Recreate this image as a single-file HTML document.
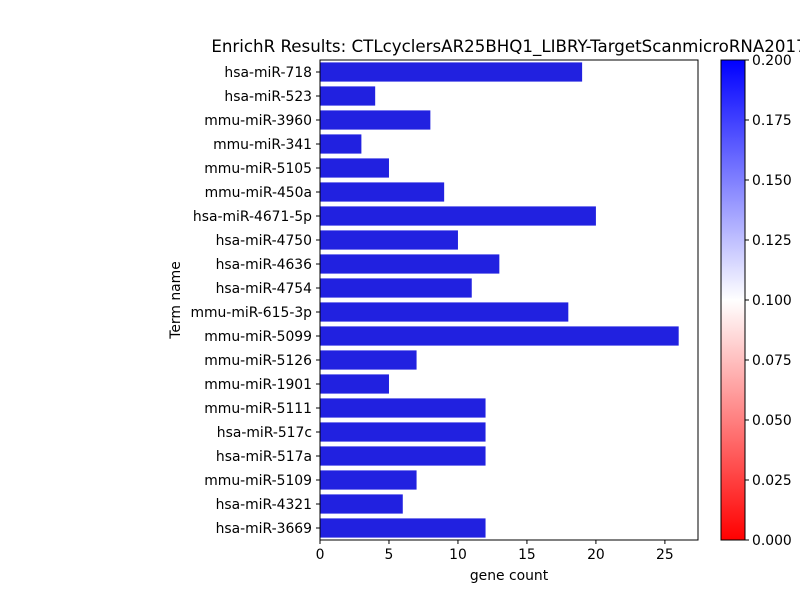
<!DOCTYPE html>
<html><head><meta charset="utf-8"><style>
body{margin:0;background:#fff;overflow:hidden;}
svg text{font-family:"DejaVu Sans","Liberation Sans",sans-serif;fill:#000;}
</style></head><body>
<svg id="chart" width="800" height="600" xmlns="http://www.w3.org/2000/svg">
<defs><linearGradient id="cg" x1="0" y1="1" x2="0" y2="0">
<stop offset="0" stop-color="#ff0000"/><stop offset="0.5" stop-color="#ffffff"/><stop offset="1" stop-color="#0000ff"/></linearGradient></defs>
<text x="509" y="52" font-size="16.67" text-anchor="middle">EnrichR Results: CTLcyclersAR25BHQ1_LIBRY-TargetScanmicroRNA2017</text>
<g id="bars"></g>
<rect x="320" y="60" width="378" height="480" fill="none" stroke="#000" stroke-width="1"/>
<g id="xaxis"></g>
<text x="509" y="580" font-size="13.9" text-anchor="middle">gene count</text>
<text transform="translate(180,300) rotate(-90)" font-size="13.9" text-anchor="middle">Term name</text>
<rect x="721" y="60" width="24" height="480" fill="url(#cg)" stroke="#000" stroke-width="1"/>
<g id="cbaxis"></g>
</svg>
<script>
const terms=["hsa-miR-718","hsa-miR-523","mmu-miR-3960","mmu-miR-341","mmu-miR-5105","mmu-miR-450a","hsa-miR-4671-5p","hsa-miR-4750","hsa-miR-4636","hsa-miR-4754","mmu-miR-615-3p","mmu-miR-5099","mmu-miR-5126","mmu-miR-1901","mmu-miR-5111","hsa-miR-517c","hsa-miR-517a","mmu-miR-5109","hsa-miR-4321","hsa-miR-3669"];
const counts=[19,4,8,3,5,9,20,10,13,11,18,26,7,5,12,12,12,7,6,12];
const xTicks=[0,5,10,15,20,25];
const cbTicks=["0.000","0.025","0.050","0.075","0.100","0.125","0.150","0.175","0.200"];
const NS="http://www.w3.org/2000/svg";
const x0=320,xMax=27.4,pw=378,plotTop=60,ph=480;
const xs=v=>x0+v/xMax*pw;
const band=ph/terms.length;
function mk(t,a,p){const e=document.createElementNS(NS,t);for(const k in a)e.setAttribute(k,a[k]);p.appendChild(e);return e;}
const gb=document.getElementById('bars'),gx=document.getElementById('xaxis'),gc=document.getElementById('cbaxis');
terms.forEach((t,i)=>{
 const y=plotTop+i*band;
 const r=mk('rect',{x:x0,y:y+band*0.1,width:xs(counts[i])-x0,height:band*0.8,fill:'#2121e0'},gb);
 
 
 mk('line',{x1:x0-4,x2:x0,y1:y+band/2,y2:y+band/2,stroke:'#000'},gb);
 const l=mk('text',{x:x0-8,y:y+band/2+5,'font-size':13.9,'text-anchor':'end'},gb);
 l.textContent=t;
 
 
});
xTicks.forEach(v=>{
 const x=xs(v);
 mk('line',{x1:x,x2:x,y1:540,y2:544,stroke:'#000'},gx);
 const l=mk('text',{x:x,y:559,'font-size':13.9,'text-anchor':'middle'},gx);
 l.textContent=v;
 
 
});
cbTicks.forEach((v,i)=>{
 const y=540-parseFloat(v)/0.2*480;
 mk('line',{x1:745,x2:749,y1:y,y2:y,stroke:'#000'},gc);
 const l=mk('text',{x:752,y:y+5,'font-size':13.9},gc);
 l.textContent=v;
 
 
});
</script>
</body></html>
